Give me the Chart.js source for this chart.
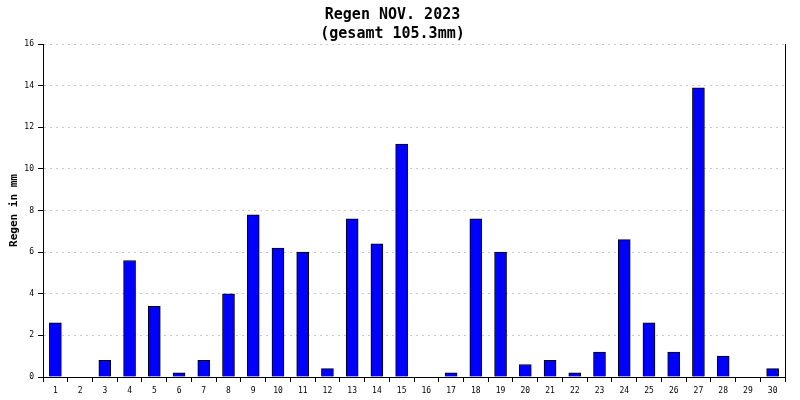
<!DOCTYPE html>
<html>
<head>
<meta charset="utf-8">
<script src="https://cdn.jsdelivr.net/npm/chart.js@4/dist/chart.umd.min.js"></script>
<style>
  html, body { margin: 0; padding: 0; background: #fff; }
  #wrap { width: 800px; height: 400px; }
</style>
</head>
<body>
<div id="wrap"><canvas id="rainChart" width="800" height="400"></canvas></div>
<script>
// Tage im November
const days = ['1','2','3','4','5','6','7','8','9','10','11','12','13','14','15',
              '16','17','18','19','20','21','22','23','24','25','26','27','28','29','30'];
// Niederschlag pro Tag in mm
const rainMm = [2.6, 0, 0.8, 5.6, 3.4, 0.2, 0.8, 4.0, 7.8, 6.2, 6.0, 0.4, 7.6, 6.4, 11.2,
                0, 0.2, 7.6, 6.0, 0.6, 0.8, 0.2, 1.2, 6.6, 2.6, 1.2, 13.9, 1.0, 0, 0.4];
const titleLines = ['Regen NOV. 2023', '(gesamt 105.3mm)'];
const yTitle = 'Regen in mm';

const mono = "'DejaVu Sans Mono', 'Liberation Mono', monospace";
Chart.defaults.font.family = mono;
Chart.defaults.color = '#000';

const ctx = document.getElementById('rainChart').getContext('2d');
new Chart(ctx, {
    type: 'bar',
    data: {
        labels: days,
        datasets: [{
            data: rainMm,
            backgroundColor: '#0000ff',
            borderColor: '#000',
            borderWidth: 1,
            barThickness: 12
        }]
    },
    options: {
        responsive: false,
        animation: false,
        layout: { padding: { left: 0, right: 15, top: 0, bottom: 0 } },
        plugins: {
            legend: { display: false },
            tooltip: { enabled: false },
            title: {
                display: true,
                text: titleLines,
                color: '#000',
                font: { family: mono, size: 15, weight: 'bold', lineHeight: 1.27 },
                padding: { top: 6, bottom: 0 }
            }
        },
        scales: {
            x: {
                grid: {
                    offset: true,
                    drawOnChartArea: false,
                    drawTicks: true,
                    tickLength: 5,
                    tickColor: '#000'
                },
                border: { display: true, color: '#000', width: 1 },
                ticks: { font: { size: 8 }, padding: 4, maxRotation: 0, autoSkip: false },
                afterFit: s => { s.height = 23; }
            },
            y: {
                min: 0,
                max: 16,
                ticks: { stepSize: 2, font: { size: 8 }, padding: 4 },
                grid: {
                    color: '#c8c8c8',
                    tickColor: '#000',
                    tickLength: 5,
                    tickBorderDash: []
                },
                border: { display: true, color: '#000', width: 1, dash: [2, 4] },
                title: {
                    display: true,
                    text: yTitle,
                    font: { size: 11, weight: 'bold' },
                    padding: { top: 8, bottom: 0 }
                },
                afterFit: s => { s.width = 43; }
            },
            y2: {
                position: 'right',
                min: 0,
                max: 16,
                ticks: { display: false },
                grid: { display: false },
                border: { display: true, color: '#000', width: 1 },
                afterFit: s => { s.width = 0; }
            }
        }
    }
});
</script>
</body>
</html>
